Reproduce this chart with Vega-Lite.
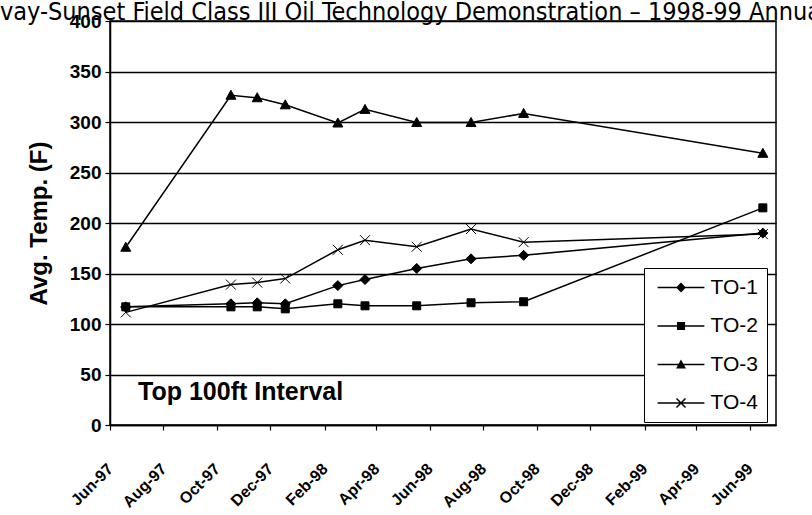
{
  "$schema": "https://vega.github.io/schema/vega-lite/v6.json",
  "width": 666,
  "height": 404,
  "autosize": {"type": "none"},
  "padding": {"left": 110, "top": 21, "right": 36, "bottom": 90},
  "background": "white",
  "config": {"view": {"stroke": "black", "strokeWidth": 1.5}, "font": "Liberation Sans"},
  "title": {
    "text": "vay-Sunset Field Class III Oil Technology Demonstration – 1998-99 Annua",
    "anchor": "start", "frame": "group", "dx": -110, "dy": 33, "offset": 0,
    "baseline": "alphabetic", "font": "DejaVu Sans Condensed", "fontSize": 25,
    "fontWeight": "normal", "color": "black"
  },
  "data": {"values": [
    {"date": "1997-06-19", "series": "TO-1", "temp": 117},
    {"date": "1997-10-17", "series": "TO-1", "temp": 120},
    {"date": "1997-11-16", "series": "TO-1", "temp": 121},
    {"date": "1997-12-18", "series": "TO-1", "temp": 120},
    {"date": "1998-02-16", "series": "TO-1", "temp": 138},
    {"date": "1998-03-19", "series": "TO-1", "temp": 144},
    {"date": "1998-05-17", "series": "TO-1", "temp": 155},
    {"date": "1998-07-18", "series": "TO-1", "temp": 164.5},
    {"date": "1998-09-16", "series": "TO-1", "temp": 168},
    {"date": "1999-06-16", "series": "TO-1", "temp": 190},
    {"date": "1997-06-19", "series": "TO-2", "temp": 117},
    {"date": "1997-10-17", "series": "TO-2", "temp": 117},
    {"date": "1997-11-16", "series": "TO-2", "temp": 117},
    {"date": "1997-12-18", "series": "TO-2", "temp": 115},
    {"date": "1998-02-16", "series": "TO-2", "temp": 120},
    {"date": "1998-03-19", "series": "TO-2", "temp": 118},
    {"date": "1998-05-17", "series": "TO-2", "temp": 118},
    {"date": "1998-07-18", "series": "TO-2", "temp": 121},
    {"date": "1998-09-16", "series": "TO-2", "temp": 122},
    {"date": "1999-06-16", "series": "TO-2", "temp": 215},
    {"date": "1997-06-19", "series": "TO-3", "temp": 176},
    {"date": "1997-10-17", "series": "TO-3", "temp": 326.5},
    {"date": "1997-11-16", "series": "TO-3", "temp": 324},
    {"date": "1997-12-18", "series": "TO-3", "temp": 317},
    {"date": "1998-02-16", "series": "TO-3", "temp": 299},
    {"date": "1998-03-19", "series": "TO-3", "temp": 312.5},
    {"date": "1998-05-17", "series": "TO-3", "temp": 299.5},
    {"date": "1998-07-18", "series": "TO-3", "temp": 299.5},
    {"date": "1998-09-16", "series": "TO-3", "temp": 308.5},
    {"date": "1999-06-16", "series": "TO-3", "temp": 269},
    {"date": "1997-06-19", "series": "TO-4", "temp": 111.5},
    {"date": "1997-10-17", "series": "TO-4", "temp": 139},
    {"date": "1997-11-16", "series": "TO-4", "temp": 141},
    {"date": "1997-12-18", "series": "TO-4", "temp": 145},
    {"date": "1998-02-16", "series": "TO-4", "temp": 173.5},
    {"date": "1998-03-19", "series": "TO-4", "temp": 183},
    {"date": "1998-05-17", "series": "TO-4", "temp": 176.5},
    {"date": "1998-07-18", "series": "TO-4", "temp": 194},
    {"date": "1998-09-16", "series": "TO-4", "temp": 181},
    {"date": "1999-06-16", "series": "TO-4", "temp": 189}
  ]},
  "encoding": {
    "x": {
      "field": "date", "type": "temporal",
      "scale": {"type": "utc", "domain": [{"year": 1997, "month": 6, "date": 1, "utc": true}, {"year": 1999, "month": 7, "date": 1, "utc": true}]},
      "axis": {
        "values": [
          {"year": 1997, "month": 6, "date": 1, "utc": true},
          {"year": 1997, "month": 8, "date": 1, "utc": true},
          {"year": 1997, "month": 10, "date": 1, "utc": true},
          {"year": 1997, "month": 12, "date": 1, "utc": true},
          {"year": 1998, "month": 2, "date": 1, "utc": true},
          {"year": 1998, "month": 4, "date": 1, "utc": true},
          {"year": 1998, "month": 6, "date": 1, "utc": true},
          {"year": 1998, "month": 8, "date": 1, "utc": true},
          {"year": 1998, "month": 10, "date": 1, "utc": true},
          {"year": 1998, "month": 12, "date": 1, "utc": true},
          {"year": 1999, "month": 2, "date": 1, "utc": true},
          {"year": 1999, "month": 4, "date": 1, "utc": true},
          {"year": 1999, "month": 6, "date": 1, "utc": true}
        ],
        "labelExpr": "utcFormat(datum.value, '%b-%y')",
        "labelAngle": -45, "labelAlign": "right", "labelBaseline": "middle",
        "labelFont": "Liberation Sans", "labelFontSize": 16, "labelFontWeight": "bold", "labelColor": "black",
        "labelPadding": 36, "labelFlush": false, "labelOverlap": false, "labelBound": false,
        "tickSize": 5, "tickColor": "black", "tickWidth": 1.2,
        "domainColor": "black", "domainWidth": 1.5, "grid": false, "title": null
      }
    },
    "y": {
      "field": "temp", "type": "quantitative",
      "scale": {"domain": [0, 400], "nice": false},
      "axis": {
        "values": [0, 50, 100, 150, 200, 250, 300, 350, 400],
        "grid": true, "gridColor": "black", "gridWidth": 1.5,
        "domainColor": "black", "domainWidth": 1.5,
        "tickSize": 5, "tickColor": "black", "tickWidth": 1.2,
        "labelFont": "Liberation Sans", "labelFontSize": 19, "labelFontWeight": "bold", "labelColor": "black", "labelPadding": 4,
        "title": "Avg. Temp. (F)", "titleFont": "Liberation Sans", "titleFontSize": 24, "titleFontWeight": "bold", "titleColor": "black", "titlePadding": 18
      }
    }
  },
  "layer": [
    {
      "mark": {"type": "line", "color": "black", "strokeWidth": 1.5},
      "encoding": {"detail": {"field": "series"}}
    },
    {
      "mark": {"type": "point", "fill": "black", "stroke": "black", "strokeWidth": 1, "opacity": 1, "filled": true, "size": 100},
      "encoding": {
        "shape": {
          "field": "series", "type": "nominal",
          "scale": {
            "domain": ["TO-1", "TO-2", "TO-3", "TO-4"],
            "range": ["M0,-1L1,0L0,1L-1,0Z", "M-0.8,-0.8H0.8V0.8H-0.8Z", "M0,-1L1,0.8H-1Z", "M-1,-1L1,1M-1,1L1,-1"]
          },
          "legend": null
        }
      }
    },
    {
      "transform": [{"filter": "false"}],
      "mark": {"type": "point", "filled": true, "fill": "black", "opacity": 1},
      "encoding": {
        "shape": {
          "field": "series", "type": "nominal",
          "scale": {
            "domain": ["TO-1", "TO-2", "TO-3", "TO-4"],
            "range": [
              "M-2.6,-0.08H2.6V0.08H-2.6ZM0,-0.55L0.55,0L0,0.55L-0.55,0Z",
              "M-2.6,-0.08H2.6V0.08H-2.6ZM-0.45,-0.45H0.45V0.45H-0.45Z",
              "M-2.6,-0.08H2.6V0.08H-2.6ZM0,-0.55L0.55,0.45H-0.55Z",
              "M-2.6,-0.08H2.6V0.08H-2.6ZM-0.443,-0.557L0.557,0.443L0.443,0.557L-0.557,-0.443ZM-0.443,0.557L-0.557,0.443L0.443,-0.557L0.557,-0.443Z"
            ]
          },
          "legend": {
            "orient": "none", "legendX": 534, "legendY": 247, "title": null,
            "padding": 9, "strokeColor": "black", "fillColor": "white",
            "labelFont": "Liberation Sans", "labelFontSize": 21, "labelColor": "black",
            "symbolSize": 324, "symbolOffset": 17.5, "labelOffset": 19, "rowPadding": 16.5,
            "symbolFillColor": "black", "symbolOpacity": 1
          }
        }
      }
    },
    {
      "data": {"values": [{"label": "Top 100ft Interval", "date": "1997-07-03", "temp": 24.7}]},
      "mark": {"type": "text", "align": "left", "baseline": "alphabetic", "font": "Liberation Sans", "fontSize": 25, "fontWeight": "bold", "color": "black"},
      "encoding": {
        "text": {"field": "label"}
      }
    }
  ],
  "resolve": {"scale": {"shape": "independent"}, "legend": {"shape": "independent"}}
}
